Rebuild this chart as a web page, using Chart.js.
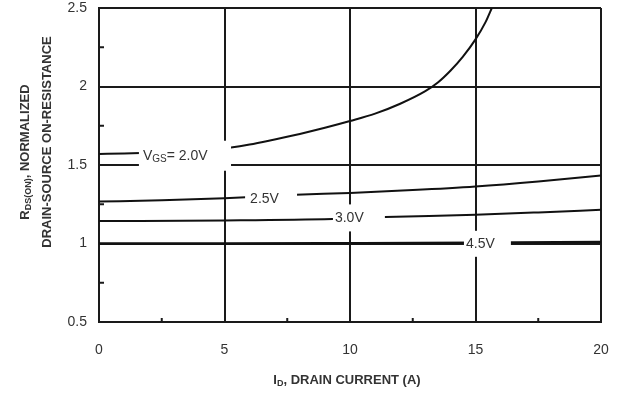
<!DOCTYPE html>
<html><head><meta charset="utf-8">
<script src="https://cdn.jsdelivr.net/npm/chart.js@4/dist/chart.umd.min.js"></script>
<style>html,body{margin:0;padding:0;background:#fff}</style>
</head><body>
<canvas id="c" width="617" height="396"></canvas>
<script>
// ---- data ----
const xTicks = [0, 5, 10, 15, 20];
const yTicks = [0.5, 1, 1.5, 2, 2.5];
const xMinor = [2.5, 7.5, 12.5, 17.5];
const yMinor = [0.75, 1.25, 1.75, 2.25];

const id_20 = [0, 1, 2, 3, 4, 5.26, 6, 7, 8, 9, 10, 11, 12, 13, 13.5, 14, 14.5, 15, 15.4, 15.65];
const r_20  = [1.57, 1.573, 1.578, 1.585, 1.595, 1.612, 1.63, 1.663, 1.698, 1.737, 1.78, 1.827, 1.89, 1.97, 2.025, 2.10, 2.19, 2.30, 2.41, 2.5];
const id_25 = [0, 2.5, 5, 7.85, 10, 12.5, 15, 17.5, 20];
const r_25  = [1.267, 1.276, 1.289, 1.31, 1.322, 1.34, 1.363, 1.395, 1.433];
const id_30 = [0, 5, 9.3, 11.4, 15, 17.5, 20];
const r_30  = [1.143, 1.147, 1.156, 1.168, 1.183, 1.198, 1.215];
const id_45 = [0, 5, 10, 15, 20];
const r_45  = [1.0, 1.0, 1.002, 1.005, 1.01];

const curveNames = ['2.0V', '2.5V', '3.0V', '4.5V'];

// curve labels (text parts) and their placement in data units
const curveLabels = [
  {parts:[['V',0],['GS',1],['= 2.0V',0]], x:1.75, y:1.559, boxL:1.59, boxR:5.26, boxH:30},
  {parts:[['2.5V',0]], x:6.02, y:1.285, boxL:5.82, boxR:7.89, boxH:18},
  {parts:[['3.0V',0]], x:9.40, y:1.163, boxL:9.32, boxR:11.39, boxH:27},
  {parts:[['4.5V',0]], x:14.62, y:0.998, boxL:14.54, boxR:16.41, boxH:26}
];

const yTitle1 = [['R',0],['DS(ON)',1],[', NORMALIZED',0]];
const yTitle2 = [['DRAIN-SOURCE ON-RESISTANCE',0]];
const xTitle  = [['I',0],['D',1],[', DRAIN CURRENT (A)',0]];

const FONT = '"Liberation Sans", Arial, sans-serif';
const TXT = '#333';
const LINE = '#1a1a1a';

function pts(xs, ys){ return xs.map((x,i)=>({x:x, y:ys[i]})); }

function partsWidth(ctx, parts, size, bold){
  let w = 0;
  for (const [t, sub] of parts){
    ctx.font = (bold?'bold ':'') + (sub? Math.round(size*0.68) : size) + 'px ' + FONT;
    w += ctx.measureText(t).width;
  }
  return w;
}
function drawParts(ctx, parts, x, y, size, bold){
  ctx.textBaseline = 'middle';
  ctx.textAlign = 'left';
  for (const [t, sub] of parts){
    const s = sub ? Math.round(size*0.68) : size;
    ctx.font = (bold?'bold ':'') + s + 'px ' + FONT;
    ctx.fillText(t, x, sub ? y + size*0.25 : y);
    x += ctx.measureText(t).width;
  }
}

const decor = {
  id: 'decor',
  afterDatasetsDraw(chart){
    const ctx = chart.ctx, xs = chart.scales.x, ys = chart.scales.y, a = chart.chartArea;
    ctx.save();
    ctx.strokeStyle = LINE; ctx.lineWidth = 2;
    for (const v of yMinor){ const p = ys.getPixelForValue(v); ctx.beginPath(); ctx.moveTo(a.left, p); ctx.lineTo(a.left+5, p); ctx.stroke(); }
    for (const v of xMinor){ const p = xs.getPixelForValue(v); ctx.beginPath(); ctx.moveTo(p, a.bottom); ctx.lineTo(p, a.bottom-4); ctx.stroke(); }
    for (const L of curveLabels){
      const yl = ys.getPixelForValue(L.y);
      const bl = xs.getPixelForValue(L.boxL), br = xs.getPixelForValue(L.boxR);
      ctx.fillStyle = '#fff';
      ctx.fillRect(bl, yl - L.boxH/2, br - bl, L.boxH);
      ctx.fillStyle = TXT;
      drawParts(ctx, L.parts, xs.getPixelForValue(L.x), yl, 14, false);
    }
    ctx.fillStyle = TXT;
    const cx = (a.left + a.right)/2;
    const w = partsWidth(ctx, xTitle, 13, true);
    drawParts(ctx, xTitle, cx - 3 - w/2, 380, 13, true);
    ctx.save();
    ctx.translate(25, 152); ctx.rotate(-Math.PI/2);
    drawParts(ctx, yTitle1, -partsWidth(ctx, yTitle1, 13, true)/2, 0, 13, true);
    ctx.restore();
    ctx.save();
    ctx.translate(47, 142); ctx.rotate(-Math.PI/2);
    drawParts(ctx, yTitle2, -partsWidth(ctx, yTitle2, 13, true)/2, 0, 13, true);
    ctx.restore();
    ctx.restore();
  }
};

const seriesX = [id_20, id_25, id_30, id_45];
const seriesY = [r_20, r_25, r_30, r_45];

new Chart(document.getElementById('c'), {
  type: 'line',
  data: {
    datasets: curveNames.map((n, i) => ({
      label: n,
      data: pts(seriesX[i], seriesY[i]),
      borderColor: '#111',
      borderWidth: i === 3 ? 2.5 : 2,
      pointRadius: 0,
      fill: false,
      cubicInterpolationMode: 'monotone'
    }))
  },
  options: {
    responsive: false,
    devicePixelRatio: 1,
    animation: false,
    layout: {padding: {left: 0, right: 16, top: 8, bottom: 0}},
    plugins: {legend: {display: false}, tooltip: {enabled: false}},
    scales: {
      x: {
        type: 'linear', min: 0, max: 20,
        afterBuildTicks: s => { s.ticks = xTicks.map(v => ({value: v})); },
        afterFit: s => { s.height = 74; s.paddingLeft = 0; s.paddingRight = 0; },
        grid: {color: LINE, lineWidth: 2, drawTicks: false},
        border: {color: LINE, width: 2},
        ticks: {color: TXT, padding: 20, font: {family: FONT, size: 14}, callback: v => String(v)}
      },
      y: {
        type: 'linear', min: 0.5, max: 2.5,
        afterBuildTicks: s => { s.ticks = yTicks.map(v => ({value: v})); },
        afterFit: s => { s.width = 99; s.paddingTop = 0; s.paddingBottom = 0; },
        grid: {color: LINE, lineWidth: 2, drawTicks: false},
        border: {color: LINE, width: 2},
        ticks: {color: TXT, padding: 12, font: {family: FONT, size: 14}, callback: v => String(v)}
      }
    }
  },
  plugins: [decor]
});
</script>
</body></html>
